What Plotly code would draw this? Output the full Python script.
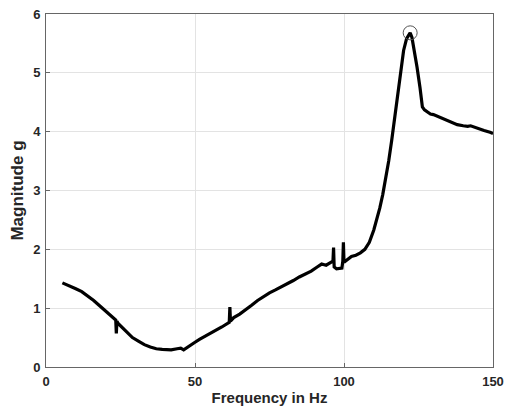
import plotly.graph_objects as go

freq = [5.5, 8, 10, 12, 14, 16, 18, 20, 22, 22.9, 23.4, 23.6, 23.8, 24.2, 25, 27, 29, 31, 33, 35, 37, 39, 40.6, 42,
        44, 45.2, 46.2, 47.2, 48.5, 50, 51.5, 53, 55, 57, 59, 61.5, 61.7, 61.9, 63, 65, 67, 69, 71, 73, 75, 77, 79, 81,
        83, 85, 87, 89, 91, 92.5, 94, 95.5, 96.3, 96.5, 96.7, 97.5, 99.3, 99.6, 99.8, 100.0, 101, 102.5, 104, 105.5,
        107, 108.5, 110, 111, 112, 113, 114, 115, 116, 117, 118, 119, 120, 121, 122.2, 122.8, 123.5, 124.5, 125.5,
        126.3, 127, 128, 129, 130, 131, 132, 133.5, 135, 136.5, 138, 140, 141.5, 142.5, 143.5, 145, 147, 149, 150]
mag = [1.43, 1.38, 1.33, 1.28, 1.21, 1.13, 1.04, 0.95, 0.85, 0.81, 0.80, 0.57, 0.78, 0.74, 0.70, 0.60, 0.50, 0.44,
       0.38, 0.34, 0.31, 0.30, 0.29, 0.29, 0.31, 0.32, 0.29, 0.32, 0.36, 0.42, 0.47, 0.51, 0.56, 0.62, 0.68, 0.76,
       1.02, 0.78, 0.84, 0.90, 0.97, 1.05, 1.13, 1.20, 1.26, 1.31, 1.36, 1.41, 1.47, 1.53, 1.58, 1.63, 1.70, 1.75,
       1.73, 1.78, 1.80, 2.03, 1.70, 1.67, 1.68, 1.80, 2.12, 1.78, 1.82, 1.88, 1.90, 1.94, 2.00, 2.12, 2.33, 2.50,
       2.70, 2.93, 3.20, 3.50, 3.85, 4.25, 4.65, 5.05, 5.38, 5.58, 5.68, 5.60, 5.40, 5.10, 4.75, 4.42, 4.37, 4.33,
       4.30, 4.29, 4.27, 4.25, 4.22, 4.18, 4.15, 4.12, 4.10, 4.09, 4.10, 4.08, 4.05, 4.02, 3.99, 3.97]

peak_i = max(range(len(mag)), key=lambda i: mag[i])
peak_f = [freq[peak_i]]
peak_m = [mag[peak_i]]

x_ticks = [0, 50, 100, 150]
y_ticks = [0, 1, 2, 3, 4, 5, 6]

fig = go.Figure()
fig.add_trace(go.Scatter(x=freq, y=mag, mode="lines",
                         line=dict(color="black", width=3.2), hoverinfo="skip"))
fig.add_trace(go.Scatter(x=peak_f, y=peak_m, mode="markers", hoverinfo="skip",
                         marker=dict(symbol="circle-open", size=14, color="#555555", line=dict(width=1))))

tick_font = dict(family="Liberation Sans, Arial, sans-serif", size=13, color="#262626", weight="bold")
xtitle_font = dict(family="Liberation Sans, Arial, sans-serif", size=15, color="#262626", weight="bold")
ytitle_font = dict(family="Liberation Sans, Arial, sans-serif", size=17, color="#262626", weight="bold")
axis_common = dict(showline=True, linecolor="#666666", linewidth=1, mirror=True, ticks="inside", ticklen=4,
                   tickcolor="#666666", showgrid=True, gridcolor="#e3e3e3", gridwidth=1, zeroline=False,
                   tickfont=tick_font, automargin=False)

fig.update_layout(
    width=510, height=409,
    margin=dict(l=46, r=17, t=14, b=42),
    paper_bgcolor="white", plot_bgcolor="white",
    showlegend=False,
    font=tick_font,
    xaxis=dict(range=[0, 150], tickvals=x_ticks, ticklabelstandoff=2,
               title=dict(text="Frequency in Hz", font=xtitle_font, standoff=4), **axis_common),
    yaxis=dict(range=[0, 6], tickvals=y_ticks, ticklabelstandoff=2,
               title=dict(text="Magnitude g", font=ytitle_font, standoff=5), **axis_common),
)

fig.write_html("out.html", config={"displayModeBar": False},
               post_script="document.body.style.margin='0';document.body.style.overflow='hidden';")
